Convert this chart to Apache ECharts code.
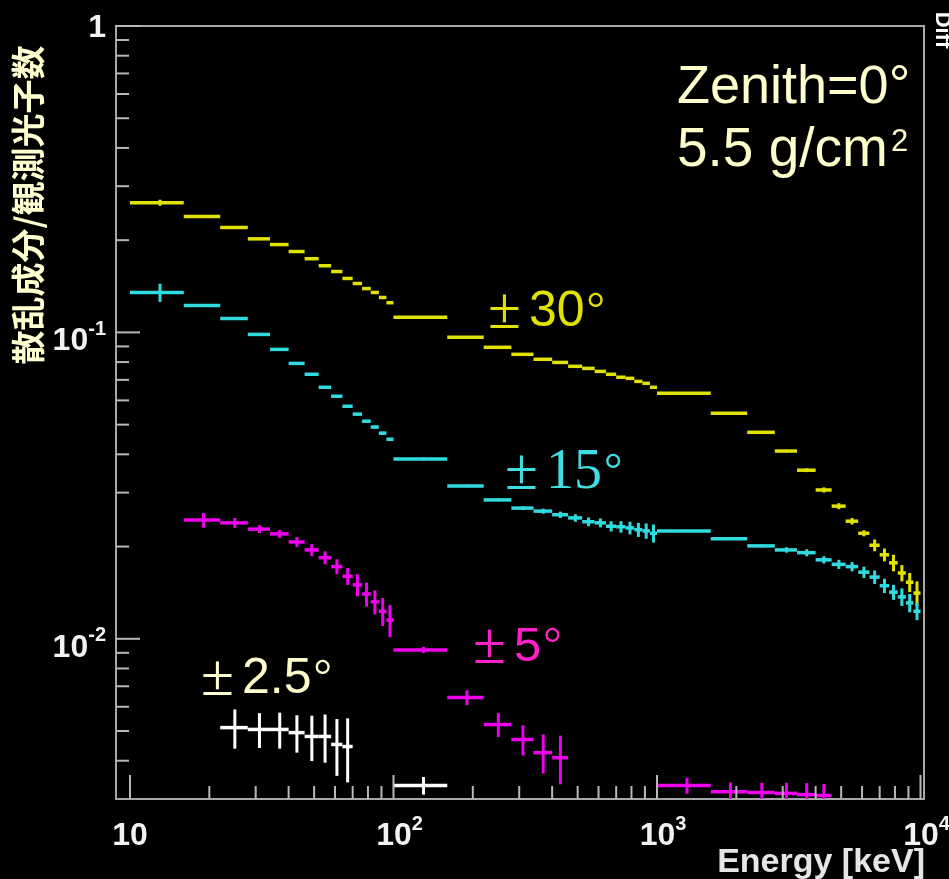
<!DOCTYPE html>
<html><head><meta charset="utf-8">
<script src="https://cdn.jsdelivr.net/npm/echarts@6/dist/echarts.min.js"></script>
<style>html,body{margin:0;padding:0;background:#000;}#c{width:949px;height:879px;}</style>
</head><body><div id="c"></div>
<script>
// Bin edges (keV): 15 linear bins per decade
const binEdges = [10,16,22,28,34,40,46,52,58,64,70,76,82,88,94,100,160,220,280,340,400,460,520,580,640,700,760,820,880,940,1000,1600,2200,2800,3400,4000,4600,5200,5800,6400,7000,7600,8200,8800,9400,10000];

// ±30°
const val30 = [0.265,0.239,0.220,0.202,0.1935,0.1836,0.174,0.165,0.158,0.150,0.1444,0.139,0.135,0.130,0.125,
  0.112,0.0964,0.0894,0.0848,0.0817,0.0798,0.0775,0.0763,0.0746,0.0730,0.0714,0.0708,0.0692,0.0682,0.0662,
  0.0633,0.0545,0.0472,0.0410,0.0355,0.0306,0.0271,0.0242,0.0221,0.0202,0.0188,0.0177,0.0164,0.0153,0.0141];
const err30 = [0.006,0.0017,0.0015,0.0014,0.0013,0.0013,0.0012,0.0012,0.0011,0.0011,0.0010,0.0010,0.0009,0.0009,0.0009,
  0.0006,0.0006,0.0005,0.0005,0.0005,0.0005,0.0005,0.0005,0.0005,0.0005,0.0005,0.0005,0.0005,0.0005,0.0005,
  0.0004,0.0004,0.0004,0.0004,0.0005,0.0006,0.0006,0.0006,0.0005,0.0009,0.0009,0.0011,0.0010,0.0011,0.0013];

// ±15°
const val15 = [0.135,0.1225,0.111,0.0985,0.088,0.0792,0.073,0.0662,0.0619,0.0574,0.0541,0.0513,0.0491,0.0469,0.0448,
  0.0386,0.0315,0.0284,0.0267,0.0261,0.0254,0.0248,0.0241,0.0239,0.0233,0.0232,0.0230,0.0227,0.0225,0.0221,
  0.0225,0.0212,0.0201,0.0195,0.0191,0.0181,0.0175,0.0172,0.0165,0.0159,0.0149,0.0142,0.0137,0.0131,0.0123];
const err15 = [0.0092,0.0012,0.0011,0.0010,0.0009,0.0008,0.0007,0.0007,0.0006,0.0006,0.0005,0.0005,0.0005,0.0005,0.0004,
  0.0004,0.0003,0.0003,0.0004,0.0005,0.0006,0.0007,0.0008,0.0008,0.0009,0.0010,0.0011,0.0012,0.0013,0.0015,
  0.0002,0.0002,0.0002,0.0004,0.0005,0.0005,0.0006,0.0006,0.0007,0.0008,0.0008,0.0008,0.0009,0.0009,0.0008];

// ±5°
const val5 = [null,0.0244,0.0239,0.0228,0.0220,0.0207,0.0195,0.0184,0.0172,0.0160,0.0150,0.0140,0.0132,0.0123,0.0115,
  0.0092,0.00643,0.00525,0.00469,0.00425,0.00409,null,null,null,null,null,null,null,null,null,
  0.00332,0.00317,0.00315,0.00313,0.00310,0.00308,null,null,null,null,null,null,null,null,null];
const err5 = [null,0.00137,0.0009,0.00068,0.00066,0.00078,0.00088,0.0009,0.00097,0.00102,0.00124,0.00126,0.00119,0.00129,0.00138,
  0.00021,0.00036,0.00047,0.00053,0.00062,0.00074,null,null,null,null,null,null,null,null,null,
  0.0002,0.000225,0.000236,0.00026,0.00028,0.00028,null,null,null,null,null,null,null,null,null];

// ±2.5°
const val25 = [null,null,0.00513,0.00506,0.00506,0.00494,0.00480,0.00480,0.00452,0.00445,null,null,null,null,null,
  0.00332,null,null,null,null,null,null,null,null,null,null,null,null,null,null,
  null,null,null,null,null,null,null,null,null,null,null,null,null,null,null];
const err25 = [null,null,0.00075,0.00066,0.00068,0.00069,0.00081,0.00086,0.00095,0.00105,null,null,null,null,null,
  0.00022,null,null,null,null,null,null,null,null,null,null,null,null,null,null,
  null,null,null,null,null,null,null,null,null,null,null,null,null,null,null];

// Axis ticks and labels
const xMajorTicks = [10,100,1000,10000];
const xMinorTicks = [20,30,40,50,60,70,80,90,200,300,400,500,600,700,800,900,2000,3000,4000,5000,6000,7000,8000,9000];
const yMajorTicks = [0.01,0.1,1];
const yMinorTicks = [0.004,0.005,0.006,0.007,0.008,0.009,0.02,0.03,0.04,0.05,0.06,0.07,0.08,0.09,0.2,0.3,0.4,0.5,0.6,0.7,0.8,0.9];
const xLabelBase = ['10','10','10','10'];
const xLabelSup = ['','2','3','4'];
const yLabelBase = ['10','10','1'];
const yLabelSup = ['-2','-1',''];

const X_MIN = 8.85, X_MAX = 10311, Y_MIN = 0.003, Y_MAX = 1;

function histSeries(name, vals, errs, color) {
  const data = [];
  vals.forEach((v, i) => { if (v != null) data.push([binEdges[i], binEdges[i + 1], v, errs[i]]); });
  return {
    type: 'custom', name: name, coordinateSystem: 'cartesian2d', clip: true, data: data,
    encode: { x: [0, 1], y: 2 },
    renderItem: function (params, api) {
      const lo = api.value(0), hi = api.value(1), v = api.value(2), e = api.value(3);
      const xc = (lo + hi) / 2;
      const p1 = api.coord([lo, v]), p2 = api.coord([hi, v]);
      const q1 = api.coord([xc, v + e]), q2 = api.coord([xc, Math.max(v - e, 1e-4)]);
      return { type: 'group', children: [
        { type: 'line', shape: { x1: p1[0], y1: p1[1], x2: p2[0], y2: p2[1] }, style: { stroke: color, lineWidth: 3.5 } },
        { type: 'line', shape: { x1: q1[0], y1: q1[1], x2: q2[0], y2: q2[1] }, style: { stroke: color, lineWidth: 3 } }
      ]};
    }
  };
}

const tickData = [];
xMajorTicks.forEach(v => tickData.push([v, 0]));
xMinorTicks.forEach(v => tickData.push([v, 1]));
yMajorTicks.forEach(v => tickData.push([v, 2]));
yMinorTicks.forEach(v => tickData.push([v, 3]));
const TICK_COLOR = '#b8b8b8';

const tickSeries = {
  type: 'custom', coordinateSystem: 'cartesian2d', clip: false, silent: true,
  data: tickData, encode: { x: 0 },
  renderItem: function (params, api) {
    const v = api.value(0), k = api.value(1);
    let p, shape;
    if (k < 2) {
      p = api.coord([v, Y_MIN]);
      const len = k === 0 ? 24 : 13;
      shape = { x1: p[0], y1: p[1], x2: p[0], y2: p[1] - len };
    } else {
      p = api.coord([X_MIN, v]);
      const len = k === 2 ? 24 : 13;
      shape = { x1: p[0], y1: p[1], x2: p[0] + len, y2: p[1] };
    }
    return { type: 'line', shape: shape, style: { stroke: TICK_COLOR, lineWidth: 2 } };
  }
};

const labelData = [];
xMajorTicks.forEach((v, i) => labelData.push([v, 0, i]));
yMajorTicks.forEach((v, i) => labelData.push([v, 1, i]));
const richLab = {
  b: { fontSize: 32, fontWeight: 'bold', fontFamily: 'Liberation Sans', fill: '#f2f2f2', lineHeight: 44 },
  s: { fontSize: 20, fontWeight: 'bold', fontFamily: 'Liberation Sans', fill: '#f2f2f2', lineHeight: 20, verticalAlign: 'top' }
};
const labelSeries = {
  type: 'custom', coordinateSystem: 'cartesian2d', clip: false, silent: true,
  data: labelData, encode: { x: 0 },
  renderItem: function (params, api) {
    const v = api.value(0), k = api.value(1), i = api.value(2);
    if (k === 0) {
      const p = api.coord([v, Y_MIN]);
      const t = '{b|' + xLabelBase[i] + '}' + (xLabelSup[i] ? '{s|' + xLabelSup[i] + '}' : '');
      return { type: 'text', x: p[0] + (xLabelSup[i] ? 6 : 0), y: p[1] + 37,
        style: { text: t, rich: richLab, align: 'center', verticalAlign: 'middle' } };
    } else {
      const p = api.coord([X_MIN, v]);
      const t = '{b|' + yLabelBase[i] + '}' + (yLabelSup[i] ? '{s|' + yLabelSup[i] + '}' : '');
      return { type: 'text', x: 106, y: p[1] + (yLabelSup[i] ? 9 : 2),
        style: { text: t, rich: richLab, align: 'right', verticalAlign: 'middle' } };
    }
  }
};

function degLabel(x, y, digits, color, digitFont, digitSize) {
  return { type: 'text', x: x, y: y, silent: true, style: {
    text: '{p|±}{d|' + digits + '}{o|°}', align: 'left', verticalAlign: 'middle',
    rich: {
      p: { fontSize: 60, fontFamily: 'Liberation Serif', fill: color },
      d: { fontSize: digitSize, fontFamily: digitFont, fill: color, padding: [0, 0, 0, 8] },
      o: { fontSize: 46, fontFamily: 'Liberation Serif', fill: color, padding: [0, 0, 0, 2] }
    } } };
}

const chart = echarts.init(document.getElementById('c'));
chart.setOption({
  backgroundColor: '#000000',
  animation: false,
  grid: { left: 116, right: 25, top: 26, bottom: 80, show: true, borderColor: '#a8a8a8', borderWidth: 2, backgroundColor: 'transparent' },
  xAxis: { type: 'log', logBase: 10, min: X_MIN, max: X_MAX,
    axisLine: { show: false }, axisTick: { show: false }, axisLabel: { show: false }, splitLine: { show: false } },
  yAxis: { type: 'log', logBase: 10, min: Y_MIN, max: Y_MAX,
    axisLine: { show: false }, axisTick: { show: false }, axisLabel: { show: false }, splitLine: { show: false } },
  series: [
    histSeries('±30°', val30, err30, '#e2e200'),
    histSeries('±15°', val15, err15, '#30dbe0'),
    histSeries('±5°', val5, err5, '#f000f0'),
    histSeries('±2.5°', val25, err25, '#ffffff'),
    tickSeries, labelSeries
  ],
  graphic: [
    { type: 'text', x: 677, y: 88, silent: true, style: { text: 'Zenith=0°', fill: '#ffffcc', font: '54px "Liberation Sans"', align: 'left', verticalAlign: 'middle' } },
    { type: 'text', x: 677, y: 151, silent: true, style: { text: '{a|5.5 g/cm}{s|2}', align: 'left', verticalAlign: 'middle',
      rich: { a: { fontSize: 55, fontFamily: 'Liberation Sans', fill: '#ffffcc', lineHeight: 48 },
              s: { fontSize: 31, fontFamily: 'Liberation Sans', fill: '#ffffcc', lineHeight: 30, verticalAlign: 'top', padding: [0, 0, 0, 3] } } } },
    degLabel(488, 312, '30', '#e2e200', 'Liberation Sans', 50),
    degLabel(505, 473, '15', '#40dde2', 'Liberation Serif', 56),
    degLabel(473, 647, '5', '#ff20c8', 'Liberation Sans', 49),
    degLabel(201, 679, '2.5', '#fffccc', 'Liberation Sans', 50),
    { type: 'text', x: 925, y: 863, silent: true, style: { text: 'Energy [keV]', fill: '#e6e6e6', font: 'bold 34px "Liberation Sans"', align: 'right', verticalAlign: 'middle' } },
    { type: 'text', x: 28, y: 205, rotation: Math.PI / 2, silent: true, style: { text: '散乱成分/観測光子数', fill: '#ffffd0', font: 'bold 34px "Noto Sans CJK JP"', align: 'center', verticalAlign: 'middle' } },
    { type: 'text', x: 942, y: 30, rotation: -Math.PI / 2, silent: true, style: { text: 'Diff', fill: '#ffffff', font: 'bold 22px "Liberation Sans"', align: 'center', verticalAlign: 'middle' } }
  ]
});
</script></body></html>
